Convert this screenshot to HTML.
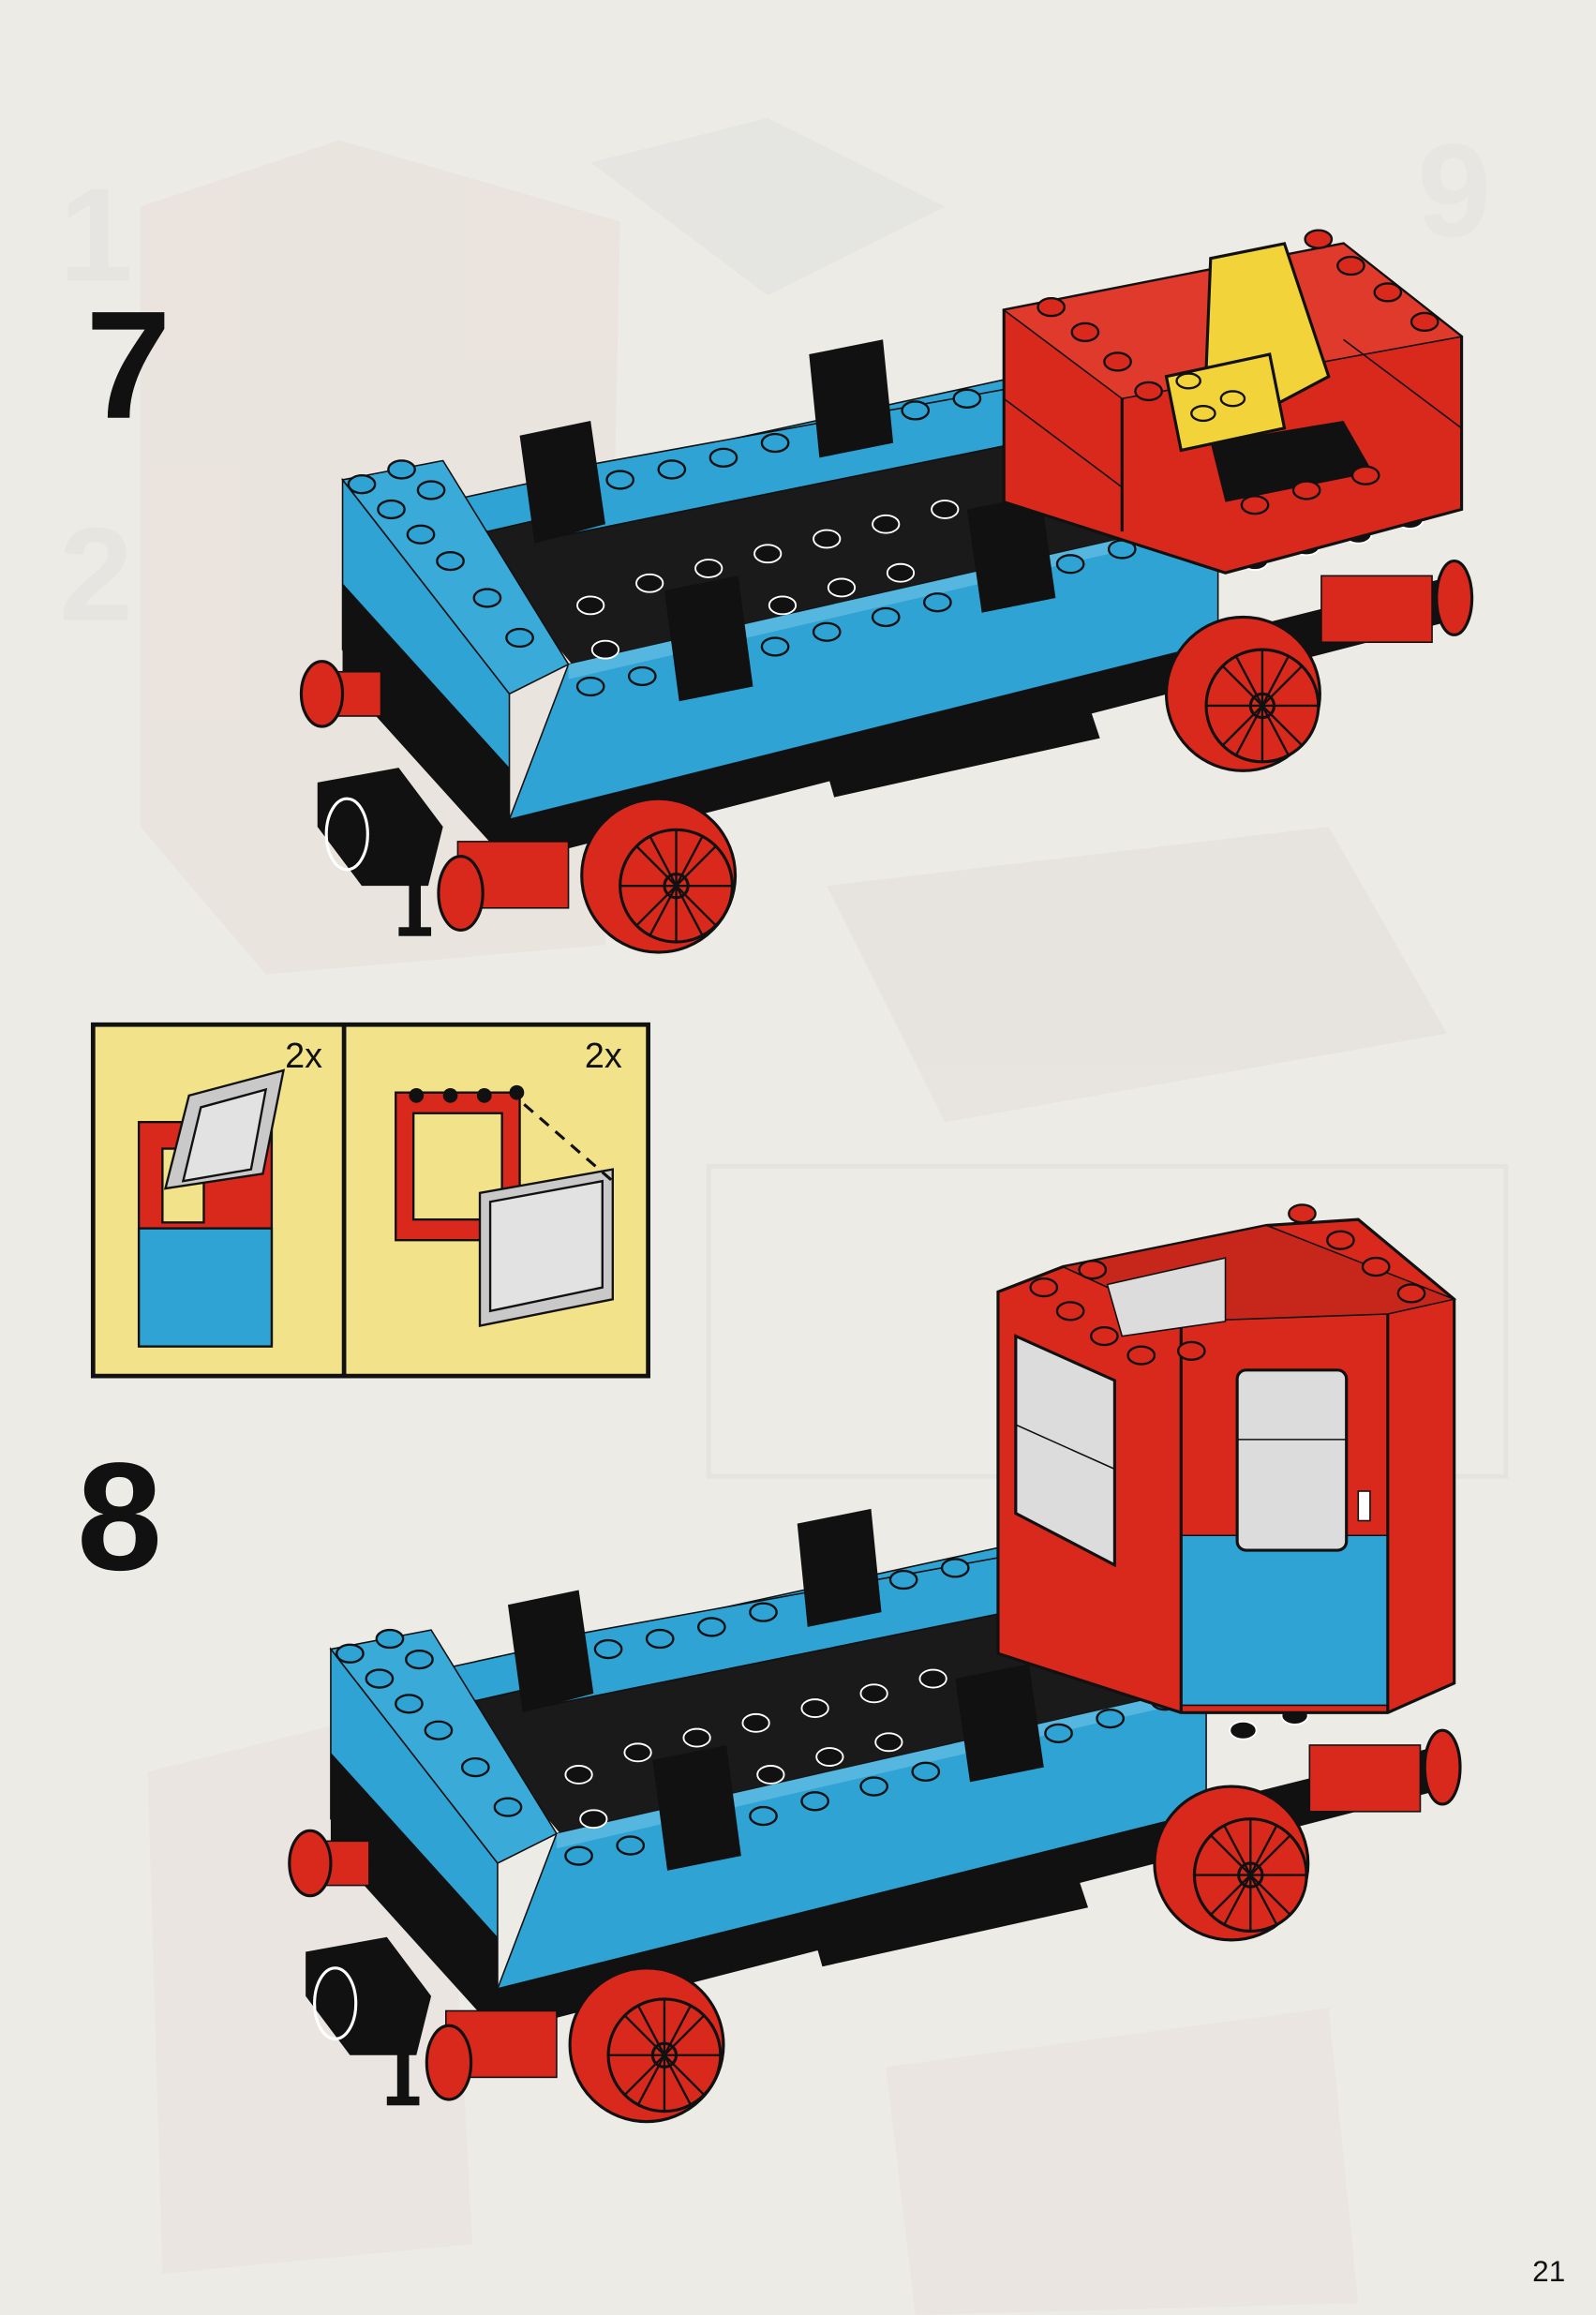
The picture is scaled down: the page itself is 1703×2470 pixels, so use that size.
<!DOCTYPE html>
<html><head><meta charset="utf-8"><style>
html,body{margin:0;padding:0;background:#ecebe6;}
svg{display:block;}
text{font-family:"Liberation Sans",sans-serif;}
</style></head><body>
<svg width="1703" height="2470" viewBox="0 0 1081 1568" xmlns="http://www.w3.org/2000/svg">
<rect width="1081" height="1568" fill="#ecebe6"/>
<g opacity="0.2">
<polygon points="95,140 230,95 420,150 410,640 180,660 95,560" fill="#e8c8c0"/>
<polygon points="400,110 520,80 640,140 520,200" fill="#cfd0cf"/>
<rect x="480" y="790" width="540" height="210" fill="none" stroke="#c9c9c9" stroke-width="3"/>
<polygon points="560,600 900,560 980,700 640,760" fill="#d9c9c9"/>
<polygon points="100,1200 300,1150 320,1520 110,1540" fill="#e6cfcb"/>
<polygon points="600,1400 900,1360 920,1560 620,1568" fill="#e6cfcb"/>
<text x="40" y="190" font-size="90" font-weight="bold" fill="#cfcfcf">1</text>
<text x="40" y="420" font-size="90" font-weight="bold" fill="#cfcfcf">2</text>
<text x="960" y="160" font-size="90" font-weight="bold" fill="#d4d4d4">9</text>
</g>

<text x="58" y="283" font-size="104" font-weight="bold" fill="#111">7</text>
<text x="52" y="1063" font-size="104" font-weight="bold" fill="#111">8</text>
<text x="1038" y="1545" font-size="20" fill="#111">21</text>

<defs>
<g id="base">
 <polygon points="555,505 735,470 745,500 565,540" fill="#111"/>
 <polygon points="232,430 345,555 825,430 985,390 985,420 345,585 232,460" fill="#111"/>
 <polygon points="300,345 680,270 830,350 400,465" fill="#1a1a1a"/>
 <polygon points="300,340 690,255 700,275 330,360" fill="#2ea3d4" stroke="#111"/>
 <polygon points="370,320 690,262 690,300 370,365" fill="#2ea3d4" stroke="#111"/>
 <polygon points="385,450 825,350 825,435 345,555" fill="#2ea3d4" stroke="#111"/>
 <polygon points="385,450 825,350 825,358 385,460" fill="#55b6df"/>
 <polygon points="232,325 300,312 385,450 345,470" fill="#3aaad8" stroke="#111"/>
 <polygon points="232,325 345,470 345,560 232,440" fill="#2ea3d4" stroke="#111"/>
 <polygon points="232,395 345,520 345,560 232,440" fill="#111"/>
 <polygon points="352,295 400,285 410,355 362,368" fill="#111"/>
 <polygon points="548,240 598,230 605,300 555,310" fill="#111"/>
 <polygon points="450,400 500,390 510,465 460,475" fill="#111"/>
 <polygon points="655,345 705,335 715,405 665,415" fill="#111"/>
 <g fill="#2ea3d4" stroke="#111" stroke-width="1.5">
  <ellipse cx="245" cy="328" rx="9" ry="6"/><ellipse cx="265" cy="345" rx="9" ry="6"/><ellipse cx="285" cy="362" rx="9" ry="6"/><ellipse cx="305" cy="380" rx="9" ry="6"/><ellipse cx="330" cy="405" rx="9" ry="6"/><ellipse cx="352" cy="432" rx="9" ry="6"/><ellipse cx="272" cy="318" rx="9" ry="6"/><ellipse cx="292" cy="332" rx="9" ry="6"/>
  <ellipse cx="420" cy="325" rx="9" ry="6"/><ellipse cx="455" cy="318" rx="9" ry="6"/><ellipse cx="490" cy="310" rx="9" ry="6"/><ellipse cx="525" cy="300" rx="9" ry="6"/><ellipse cx="620" cy="278" rx="9" ry="6"/><ellipse cx="655" cy="270" rx="9" ry="6"/>
  <ellipse cx="400" cy="465" rx="9" ry="6"/><ellipse cx="435" cy="458" rx="9" ry="6"/><ellipse cx="525" cy="438" rx="9" ry="6"/><ellipse cx="560" cy="428" rx="9" ry="6"/><ellipse cx="600" cy="418" rx="9" ry="6"/><ellipse cx="635" cy="408" rx="9" ry="6"/><ellipse cx="725" cy="382" rx="9" ry="6"/><ellipse cx="760" cy="372" rx="9" ry="6"/><ellipse cx="797" cy="360" rx="9" ry="6"/>
 </g>
 <g fill="#111" stroke="#fff" stroke-width="1.2">
  <ellipse cx="400" cy="410" rx="9" ry="6"/><ellipse cx="440" cy="395" rx="9" ry="6"/><ellipse cx="480" cy="385" rx="9" ry="6"/><ellipse cx="520" cy="375" rx="9" ry="6"/><ellipse cx="560" cy="365" rx="9" ry="6"/><ellipse cx="600" cy="355" rx="9" ry="6"/><ellipse cx="640" cy="345" rx="9" ry="6"/>
  <ellipse cx="410" cy="440" rx="9" ry="6"/><ellipse cx="530" cy="410" rx="9" ry="6"/><ellipse cx="570" cy="398" rx="9" ry="6"/><ellipse cx="610" cy="388" rx="9" ry="6"/><ellipse cx="850" cy="380" rx="9" ry="6"/><ellipse cx="885" cy="370" rx="9" ry="6"/><ellipse cx="920" cy="362" rx="9" ry="6"/><ellipse cx="955" cy="352" rx="9" ry="6"/>
 </g>
 <rect x="218" y="455" width="40" height="30" fill="#d9281c" stroke="#111"/>
 <ellipse cx="218" cy="470" rx="14" ry="22" fill="#d9281c" stroke="#111" stroke-width="2"/>
 <rect x="310" y="570" width="75" height="45" fill="#d9281c" stroke="#111"/>
 <ellipse cx="312" cy="605" rx="15" ry="25" fill="#d9281c" stroke="#111" stroke-width="2"/>
 <rect x="895" y="390" width="75" height="45" fill="#d9281c" stroke="#111"/>
 <ellipse cx="985" cy="405" rx="12" ry="25" fill="#d9281c" stroke="#111" stroke-width="2"/>
 <polygon points="215,530 270,520 300,560 290,600 245,600 215,560" fill="#111"/>
 <ellipse cx="235" cy="565" rx="14" ry="24" fill="none" stroke="#fff" stroke-width="2"/>
 <rect x="277" y="575" width="8" height="55" fill="#111"/>
 <rect x="270" y="628" width="22" height="6" fill="#111"/>
 <g stroke="#111" stroke-width="2">
  <circle cx="446" cy="593" r="52" fill="#d9281c"/>
  <circle cx="458" cy="600" r="38" fill="#d9281c"/>
  <circle cx="458" cy="600" r="8" fill="#d9281c"/>
  <circle cx="842" cy="470" r="52" fill="#d9281c"/>
  <circle cx="855" cy="478" r="38" fill="#d9281c"/>
  <circle cx="855" cy="478" r="8" fill="#d9281c"/>
 </g>
 <g stroke="#111" stroke-width="1.5">
  <path d="M458 562V638M420 600H496M431 573L485 627M431 627L485 573M440 566L476 634M440 634L476 566"/>
  <path d="M855 440V516M817 478H893M828 451L882 505M828 505L882 451M837 444L873 512M837 512L873 444"/>
 </g>
</g>
</defs>

<use href="#base"/>
<!-- red cab 7 -->
<polygon points="680,210 910,165 990,228 990,345 830,388 680,340" fill="#d9281c" stroke="#111" stroke-width="2"/>
<polygon points="680,210 910,165 990,228 760,270" fill="#e03a2c" stroke="#111"/>
<line x1="760" y1="270" x2="760" y2="360" stroke="#111" stroke-width="2"/>
<line x1="680" y1="270" x2="760" y2="330" stroke="#111"/>
<line x1="910" y1="230" x2="990" y2="290" stroke="#111"/>
<polygon points="820,175 870,165 900,255 815,300" fill="#f2d43a" stroke="#111" stroke-width="2"/>
<polygon points="790,255 860,240 870,290 800,305" fill="#f2d43a" stroke="#111" stroke-width="2"/>
<polygon points="820,300 910,285 930,320 830,340" fill="#111"/>
<g fill="#d9281c" stroke="#111" stroke-width="1.5">
 <ellipse cx="712" cy="208" rx="9" ry="6"/><ellipse cx="735" cy="225" rx="9" ry="6"/><ellipse cx="757" cy="245" rx="9" ry="6"/><ellipse cx="778" cy="265" rx="9" ry="6"/>
 <ellipse cx="893" cy="162" rx="9" ry="6"/><ellipse cx="915" cy="180" rx="9" ry="6"/><ellipse cx="940" cy="198" rx="9" ry="6"/><ellipse cx="965" cy="218" rx="9" ry="6"/>
 <ellipse cx="850" cy="342" rx="9" ry="6"/><ellipse cx="885" cy="332" rx="9" ry="6"/><ellipse cx="925" cy="322" rx="9" ry="6"/>
</g>
<g fill="#f2d43a" stroke="#111" stroke-width="1.5"><ellipse cx="805" cy="258" rx="8" ry="5"/><ellipse cx="835" cy="270" rx="8" ry="5"/><ellipse cx="815" cy="280" rx="8" ry="5"/></g>

<rect x="63" y="694" width="376" height="238" fill="#f2e28a" stroke="#111" stroke-width="3"/>
<line x1="233" y1="694" x2="233" y2="932" stroke="#111" stroke-width="3"/>
<text x="193" y="723" font-size="24" fill="#111">2x</text>
<text x="396" y="723" font-size="24" fill="#111">2x</text>
<g stroke="#111" stroke-width="1.5">
 <rect x="94" y="760" width="90" height="150" fill="#d9281c"/>
 <rect x="94" y="832" width="90" height="80" fill="#2ea3d4"/>
 <rect x="110" y="778" width="28" height="50" fill="#f2e28a"/>
 <polygon points="128,742 192,725 178,795 112,805" fill="#c9c9c9"/>
 <polygon points="136,750 180,738 170,792 124,800" fill="#e2e2e2"/>
 <polygon points="268,740 352,740 352,840 268,840" fill="#d9281c"/>
 <rect x="280" y="754" width="60" height="72" fill="#f2e28a"/>
 <polygon points="325,808 415,792 415,880 325,898" fill="#c9c9c9"/>
 <polygon points="332,814 408,800 408,872 332,888" fill="#e2e2e2"/>
</g>
<g fill="#111"><circle cx="282" cy="742" r="5"/><circle cx="305" cy="742" r="5"/><circle cx="328" cy="742" r="5"/><circle cx="350" cy="740" r="5"/></g>
<path d="M355 748L415 800" stroke="#111" stroke-width="2" stroke-dasharray="8 6"/>

<use href="#base" transform="translate(-8,792)"/>
<polygon points="676,875 720,858 858,830 920,826 985,880 985,1140 940,1160 800,1160 676,1120" fill="#d9281c" stroke="#111" stroke-width="2"/>
<polygon points="800,1040 940,1040 940,1155 800,1155" fill="#2ea3d4" stroke="#111"/>
<line x1="800" y1="895" x2="800" y2="1160" stroke="#111" stroke-width="2"/>
<line x1="940" y1="890" x2="940" y2="1160" stroke="#111" stroke-width="2"/>
<polygon points="800,895 940,890 985,880 858,830 720,858" fill="#c7261b" stroke="#111"/>
<polygon points="750,870 830,852 830,895 760,905" fill="#dcdcdc" stroke="#111"/>
<polygon points="688,905 755,935 755,1060 688,1025" fill="#dcdcdc" stroke="#111" stroke-width="2"/>
<line x1="688" y1="965" x2="755" y2="995" stroke="#111"/>
<rect x="838" y="928" width="74" height="122" rx="6" fill="#dcdcdc" stroke="#111" stroke-width="2"/>
<line x1="838" y1="975" x2="912" y2="975" stroke="#111"/>
<rect x="920" y="1010" width="8" height="20" fill="#fff" stroke="#111"/>
<g fill="#d9281c" stroke="#111" stroke-width="1.5">
 <ellipse cx="707" cy="872" rx="9" ry="6"/><ellipse cx="725" cy="888" rx="9" ry="6"/><ellipse cx="748" cy="905" rx="9" ry="6"/><ellipse cx="773" cy="918" rx="9" ry="6"/><ellipse cx="807" cy="915" rx="9" ry="6"/>
 <ellipse cx="740" cy="860" rx="9" ry="6"/>
 <ellipse cx="882" cy="822" rx="9" ry="6"/><ellipse cx="908" cy="840" rx="9" ry="6"/><ellipse cx="932" cy="858" rx="9" ry="6"/><ellipse cx="956" cy="876" rx="9" ry="6"/>
</g>
</svg>
</body></html>
